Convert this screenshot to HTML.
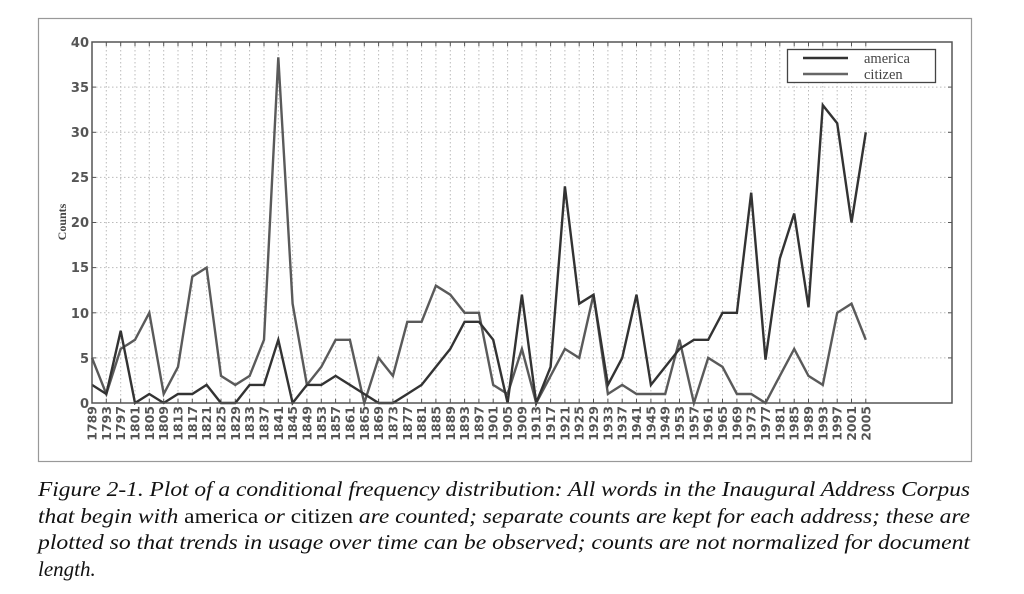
<!DOCTYPE html>
<html><head><meta charset="utf-8"><style>
html,body{margin:0;padding:0;background:#fff;width:1024px;height:594px;overflow:hidden}
svg{display:block}
.t{font-family:"DejaVu Sans","Liberation Sans",sans-serif;font-size:13px;fill:#555;font-weight:bold}
.xl{font-family:"DejaVu Sans","Liberation Sans",sans-serif;font-size:12.5px;fill:#555;font-weight:bold}
.cap{font-family:"Liberation Serif",serif;font-size:21px;font-style:italic;fill:#111}
.r{font-style:normal}
</style></head><body>
<svg id="s" width="1024" height="594" xmlns="http://www.w3.org/2000/svg">
<rect x="38.5" y="18.5" width="933" height="443" fill="#fff" stroke="#999" stroke-width="1.2"/>
<g id="grid"></g>
<g id="lines"></g>
<rect x="92" y="42" width="860" height="361" fill="none" stroke="#555" stroke-width="1.5"/>
<g class="t" text-anchor="end">
<text x="89" y="47">40</text><text x="89" y="92">35</text><text x="89" y="137">30</text>
<text x="89" y="182">25</text><text x="89" y="227">20</text><text x="89" y="272">15</text>
<text x="89" y="318">10</text><text x="89" y="363">5</text><text x="89" y="408">0</text>
</g>
<text transform="translate(66,222) rotate(-90)" text-anchor="middle" style="font-family:'Liberation Serif',serif;font-size:12px;font-weight:bold;fill:#444">Counts</text>
<g class="xl" text-anchor="end">
<text transform="translate(96.5,406) rotate(-90)">1789</text>
<text transform="translate(110.8,406) rotate(-90)">1793</text>
<text transform="translate(125.2,406) rotate(-90)">1797</text>
<text transform="translate(139.5,406) rotate(-90)">1801</text>
<text transform="translate(153.8,406) rotate(-90)">1805</text>
<text transform="translate(168.2,406) rotate(-90)">1809</text>
<text transform="translate(182.5,406) rotate(-90)">1813</text>
<text transform="translate(196.8,406) rotate(-90)">1817</text>
<text transform="translate(211.1,406) rotate(-90)">1821</text>
<text transform="translate(225.5,406) rotate(-90)">1825</text>
<text transform="translate(239.8,406) rotate(-90)">1829</text>
<text transform="translate(254.1,406) rotate(-90)">1833</text>
<text transform="translate(268.5,406) rotate(-90)">1837</text>
<text transform="translate(282.8,406) rotate(-90)">1841</text>
<text transform="translate(297.1,406) rotate(-90)">1845</text>
<text transform="translate(311.5,406) rotate(-90)">1849</text>
<text transform="translate(325.8,406) rotate(-90)">1853</text>
<text transform="translate(340.1,406) rotate(-90)">1857</text>
<text transform="translate(354.5,406) rotate(-90)">1861</text>
<text transform="translate(368.8,406) rotate(-90)">1865</text>
<text transform="translate(383.1,406) rotate(-90)">1869</text>
<text transform="translate(397.5,406) rotate(-90)">1873</text>
<text transform="translate(411.8,406) rotate(-90)">1877</text>
<text transform="translate(426.1,406) rotate(-90)">1881</text>
<text transform="translate(440.4,406) rotate(-90)">1885</text>
<text transform="translate(454.8,406) rotate(-90)">1889</text>
<text transform="translate(469.1,406) rotate(-90)">1893</text>
<text transform="translate(483.4,406) rotate(-90)">1897</text>
<text transform="translate(497.7,406) rotate(-90)">1901</text>
<text transform="translate(512.1,406) rotate(-90)">1905</text>
<text transform="translate(526.4,406) rotate(-90)">1909</text>
<text transform="translate(540.7,406) rotate(-90)">1913</text>
<text transform="translate(555.1,406) rotate(-90)">1917</text>
<text transform="translate(569.4,406) rotate(-90)">1921</text>
<text transform="translate(583.7,406) rotate(-90)">1925</text>
<text transform="translate(598.1,406) rotate(-90)">1929</text>
<text transform="translate(612.4,406) rotate(-90)">1933</text>
<text transform="translate(626.7,406) rotate(-90)">1937</text>
<text transform="translate(641,406) rotate(-90)">1941</text>
<text transform="translate(655.4,406) rotate(-90)">1945</text>
<text transform="translate(669.7,406) rotate(-90)">1949</text>
<text transform="translate(684,406) rotate(-90)">1953</text>
<text transform="translate(698.4,406) rotate(-90)">1957</text>
<text transform="translate(712.7,406) rotate(-90)">1961</text>
<text transform="translate(727,406) rotate(-90)">1965</text>
<text transform="translate(741.4,406) rotate(-90)">1969</text>
<text transform="translate(755.7,406) rotate(-90)">1973</text>
<text transform="translate(770,406) rotate(-90)">1977</text>
<text transform="translate(784.3,406) rotate(-90)">1981</text>
<text transform="translate(798.7,406) rotate(-90)">1985</text>
<text transform="translate(813,406) rotate(-90)">1989</text>
<text transform="translate(827.3,406) rotate(-90)">1993</text>
<text transform="translate(841.7,406) rotate(-90)">1997</text>
<text transform="translate(856,406) rotate(-90)">2001</text>
<text transform="translate(870.3,406) rotate(-90)">2005</text>
</g>
<rect x="787.5" y="49.5" width="148" height="33" fill="#fff" stroke="#444" stroke-width="1.3"/>
<line x1="803" y1="58" x2="848" y2="58" stroke="#333" stroke-width="2.4"/>
<line x1="803" y1="74" x2="848" y2="74" stroke="#666" stroke-width="2.4"/>
<g style="font-family:'Liberation Serif',serif;font-size:14.5px;fill:#444">
<text x="864" y="63">america</text><text x="864" y="79">citizen</text></g>
<g class="cap">
<text x="38" y="496" textLength="932" lengthAdjust="spacingAndGlyphs">Figure 2-1. Plot of a conditional frequency distribution: All words in the Inaugural Address Corpus</text>
<text x="38" y="523" textLength="932" lengthAdjust="spacingAndGlyphs">that begin with <tspan class="r">america</tspan> or <tspan class="r">citizen</tspan> are counted; separate counts are kept for each address; these are</text>
<text x="38" y="549" textLength="932" lengthAdjust="spacingAndGlyphs">plotted so that trends in usage over time can be observed; counts are not normalized for document</text>
<text x="38" y="576">length.</text>
</g>
</svg>
<script>
(function(){
function X(i){return 92+14.33*i}
function Y(v){return 403-v*9.025}
var g=document.getElementById('grid'),h='';
for(var i=0;i<55;i++){var x=X(i).toFixed(1);
h+='<line x1="'+x+'" y1="42" x2="'+x+'" y2="403" stroke="#bbb" stroke-width="1" stroke-dasharray="1.5,2.5"/>';
h+='<line x1="'+x+'" y1="42" x2="'+x+'" y2="46" stroke="#555" stroke-width="1"/>';
h+='<line x1="'+x+'" y1="403" x2="'+x+'" y2="399" stroke="#555" stroke-width="1"/>';}
for(var v=5;v<40;v+=5){var y=Y(v).toFixed(1);
h+='<line x1="92" y1="'+y+'" x2="952" y2="'+y+'" stroke="#bbb" stroke-width="1" stroke-dasharray="1.5,2.5"/>';}
for(var v=0;v<=40;v+=5){var y=Y(v).toFixed(1);
h+='<line x1="92" y1="'+y+'" x2="96" y2="'+y+'" stroke="#555"/><line x1="948" y1="'+y+'" x2="952" y2="'+y+'" stroke="#555"/>';}
g.innerHTML=h;
var am=[2,1,8,0,1,0,1,1,2,0,0,2,2,7,0,2,2,3,2,1,0,0,1,2,4,6,9,9,7,0,12,0,4,24,11,12,2,5,12,2,4,6,7,7,10,10,23.3,4.8,16,21,10.6,33,31,20,30];
var ci=[5,1,6,7,10,1,4,14,15,3,2,3,7,38.3,11,2,4,7,7,0,5,3,9,9,13,12,10,10,2,1,6,0,3,6,5,12,1,2,1,1,1,7,0,5,4,1,1,0,3,6,3,2,10,11,7];
function pts(a){return a.map(function(v,i){return X(i).toFixed(1)+','+Y(v).toFixed(1)}).join(' ')}
document.getElementById('lines').innerHTML=
'<polyline points="'+pts(ci)+'" fill="none" stroke="#5a5a5a" stroke-width="2.4"/>'+
'<polyline points="'+pts(am)+'" fill="none" stroke="#333" stroke-width="2.4"/>';
})();
</script>
</body></html>
